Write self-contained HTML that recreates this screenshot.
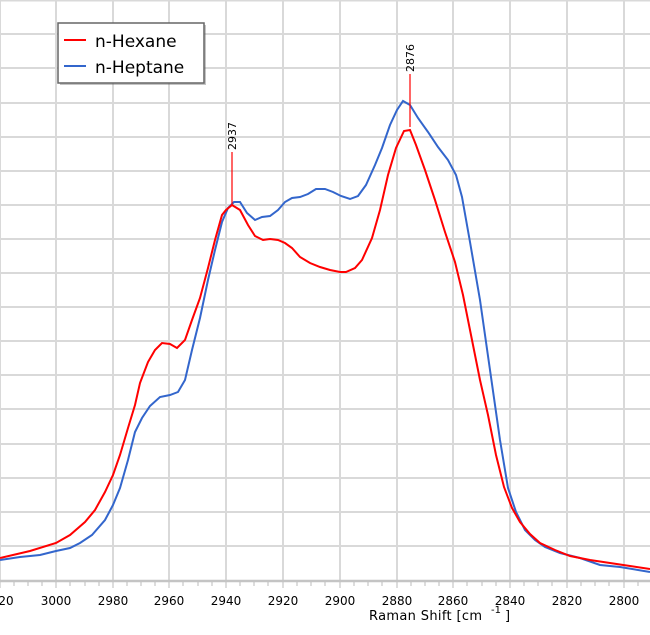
<!DOCTYPE html>
<html><head><meta charset="utf-8"><style>body{margin:0;background:#fff}svg{display:block}text{font-family:"DejaVu Sans","Liberation Sans",sans-serif}</style></head><body>
<svg width="650" height="635" viewBox="0 0 650 635">
<g stroke="#d9d9d9" stroke-width="2">
<path d="M0 0.5H650M0 34H650M0 68H650M0 103H650M0 137H650M0 171H650M0 205H650M0 239H650M0 273H650M0 307H650M0 341H650M0 375H650M0 409H650M0 444H650M0 478H650M0 512H650M0 546H650"/>
<path d="M0 0V580M56 0V580M113 0V580M169 0V580M226 0V580M283 0V580M340 0V580M397 0V580M453 0V580M510 0V580M567 0V580M624 0V580"/>
</g>
<path d="M0 581H650" stroke="#c4c4c4" stroke-width="2.5"/>
<g stroke="#bbb" stroke-width="1"><path d="M0 582v6M14 582v4M28 582v4M42 582v4M56 582v6M70 582v4M85 582v4M99 582v4M113 582v6M127 582v4M141 582v4M155 582v4M169 582v6M183 582v4M198 582v4M212 582v4M226 582v6M240 582v4M254 582v4M268 582v4M283 582v6M297 582v4M311 582v4M325 582v4M340 582v6M354 582v4M368 582v4M382 582v4M397 582v6M411 582v4M425 582v4M439 582v4M453 582v6M467 582v4M482 582v4M496 582v4M510 582v6M524 582v4M538 582v4M552 582v4M567 582v6M581 582v4M595 582v4M609 582v4M624 582v6M638 582v4"/></g>
<g font-size="12" fill="#000" text-anchor="middle">
<text x="6" y="605">20</text><text x="56" y="605">3000</text><text x="113" y="605">2980</text><text x="169" y="605">2960</text><text x="226" y="605">2940</text><text x="283" y="605">2920</text><text x="340" y="605">2900</text><text x="397" y="605">2880</text><text x="453" y="605">2860</text><text x="510" y="605">2840</text><text x="567" y="605">2820</text><text x="624" y="605">2800</text>
</g>
<text x="369" y="620" font-size="13" textLength="113">Raman Shift [cm</text><text x="491" y="613" font-size="10">-1</text><text x="505" y="620" font-size="13">]</text>
<polyline fill="none" stroke="#3366cc" stroke-width="2" points="0,560 20,557 40,555 56,551 70,548 80,543 92,535 105,520 113,505 120,488 128,460 135,432 142,418 150,406 160,397 170,395 178,392 185,380 192,350 200,318 208,280 215,250 222,222 228,208 234,202 240,202 247,213 255,220 262,217 270,216 278,210 285,202 292,198 300,197 308,194 316,189 325,189 333,192 341,196 350,199 358,196 366,185 375,165 382,148 390,125 397,110 403,101 410,105 418,118 428,132 438,147 448,160 456,175 462,197 470,242 480,300 490,370 500,440 508,488 516,512 525,530 535,540 545,547 560,553 580,558 600,565 620,567 650,572"/>
<polyline fill="none" stroke="#ff0000" stroke-width="2" points="0,558 30,551 56,543 70,535 85,522 95,510 105,492 113,475 120,455 128,428 135,405 140,383 148,362 155,350 162,343 170,344 177,348 185,340 192,320 200,298 208,268 215,240 222,215 226,210 232,205 240,210 248,225 255,236 263,240 270,239 278,240 285,243 292,248 300,257 310,263 320,267 330,270 340,272 346,272 355,268 362,260 372,238 380,210 388,175 396,148 404,131 410,130 416,145 425,170 435,200 445,232 455,262 463,295 472,340 480,380 488,415 496,455 504,487 512,508 520,522 530,534 540,543 555,550 570,556 590,560 610,563 630,566 650,569"/>
<path d="M232 152V205M410 74V127" stroke="#ff0000" stroke-width="1.2"/>
<text transform="translate(236,150) rotate(-90)" font-size="11">2937</text>
<text transform="translate(414,72) rotate(-90)" font-size="11">2876</text>
<rect x="60" y="25" width="146" height="60" fill="#555" opacity="0.35"/>
<rect x="58" y="23" width="146" height="60" fill="#fff" stroke="#666" stroke-width="1.5"/>
<path d="M64 40H86" stroke="#ff0000" stroke-width="2"/><path d="M64 66H86" stroke="#3366cc" stroke-width="2"/>
<text x="95" y="47" font-size="17">n-Hexane</text><text x="95" y="73" font-size="17">n-Heptane</text>
</svg>
</body></html>
